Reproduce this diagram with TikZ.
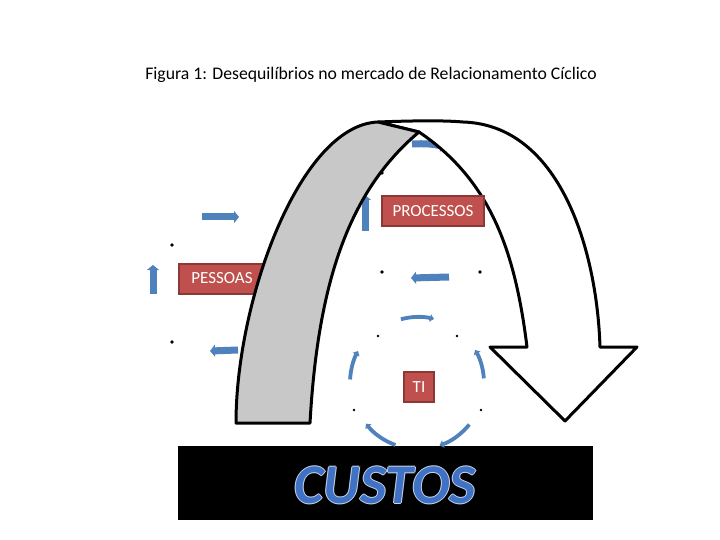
\documentclass[tikz,border=0pt]{standalone}
\usepackage{fontspec}
\setmainfont{Carlito}
\usetikzlibrary{arrows.meta}
\definecolor{boxred}{HTML}{C0504D}
\definecolor{boxborder}{HTML}{8C3836}
\definecolor{cycleblue}{HTML}{4F81BD}
\definecolor{custosblue}{HTML}{3F72C4}
\definecolor{custosrim}{HTML}{C9D6EA}
\definecolor{bandgrey}{HTML}{C8C8C8}
\tikzset{
	label box/.style={fill=boxred, draw=boxborder, line width=2pt, text=white, inner sep=0pt, minimum height=30pt, font=\fontsize{17}{17}\selectfont}, % red boxes with the names
	block arrow/.style={draw=cycleblue, line width=7pt, -{Triangle[length=5pt,width=12pt]}}, % thick blue arrows
	thin arrow/.style={draw=cycleblue, line width=3.8pt, -{Triangle[length=4pt,width=7.5pt]}}, % arcs round TI
	dot/.style={circle, fill=black, inner sep=0pt, minimum size=3.6pt},
	small dot/.style={dot, minimum size=2.6pt},
	outline/.style={draw=black, line width=3pt, line join=round},
	custos font/.style={anchor=base, font=\fontsize{56}{56}\selectfont\bfseries\itshape},
}

\begin{document}
\begin{tikzpicture}[x=1pt, y=-1pt]
	\useasboundingbox (0,0) rectangle (720,540);

	% bar at the bottom
	\fill[black] (178,446) rectangle (593,520);

	\node[label box, anchor=west, minimum width=86pt] (pessoas) at (178,278.5) {PESSOAS};

	% cycle round PESSOAS
	\draw[block arrow] (202,217) -- (239,217);
	\draw[block arrow] (153,294) -- (153,265);
	\draw[block arrow] (238,350) -- (210,351);

	% cycle round PROCESSOS
	\draw[block arrow] (412,144) to[bend left=8] (446,147);
	\draw[block arrow] (365,231) -- (365,195);
	\draw[block arrow] (449,277) -- (411,278);

	% cycle round TI
	\draw[thin arrow] (418,383) ++(-105:66) arc[start angle=-105, end angle=-76, radius=66];
	\draw[thin arrow] (418,383) ++(-177:68) arc[start angle=-177, end angle=-152, radius=68];
	\draw[thin arrow] (418,383) ++(-4:66) arc[start angle=-4, end angle=-30, radius=66];
	\draw[thin arrow] (418,383) ++(110:66) arc[start angle=110, end angle=142, radius=66];
	\draw[thin arrow] (418,383) ++(39:66) arc[start angle=39, end angle=71, radius=66];

	% white front arm of the big arrow
	\path[outline, fill=white] (378,122) .. controls (405,121) and (440,120) .. (463,122)
		.. controls (560,125) and (597,250) .. (600,347)
		-- (637,347) -- (565,421) -- (490,347) -- (527,347)
		.. controls (515,250) and (490,180) .. (419,132) -- cycle;

	% grey back arm
	\path[outline, fill=bandgrey] (236,423) .. controls (236,300) and (300,125) .. (378,122)
		-- (419,132)
		.. controls (350,190) and (318,280) .. (310,423) -- cycle;

	\node[label box, minimum width=102pt] (processos) at (433,211.5) {PROCESSOS};
	\node[label box, minimum width=30pt] (ti) at (419,387) {TI};

	% dots
	\node[dot] (d1) at (172,245) {};
	\node[dot] (d2) at (172,342) {};
	\node[dot] (d3) at (382,173) {};
	\node[dot] (d4) at (382,272) {};
	\node[dot] (d5) at (480,272) {};
	\node[small dot] (d6) at (378,336) {};
	\node[small dot] (d7) at (457,336) {};
	\node[small dot] (d8) at (354,410) {};
	\node[small dot] (d9) at (481,410) {};

	\node[font=\fontsize{17.7}{17.7}\selectfont] (title) at (371,75) {Figura 1: Desequilíbrios no mercado de Relacionamento Cíclico};

	% CUSTOS with a light rim
	\foreach \dx/\dy in {-1/0, 1/0, 0/-1, 0/1}
		\node[custos font, text=custosrim] at (385+\dx,503+\dy) {CUSTOS};
	\node[custos font, text=custosblue] (custos) at (385,503) {CUSTOS};
\end{tikzpicture}
\end{document}
